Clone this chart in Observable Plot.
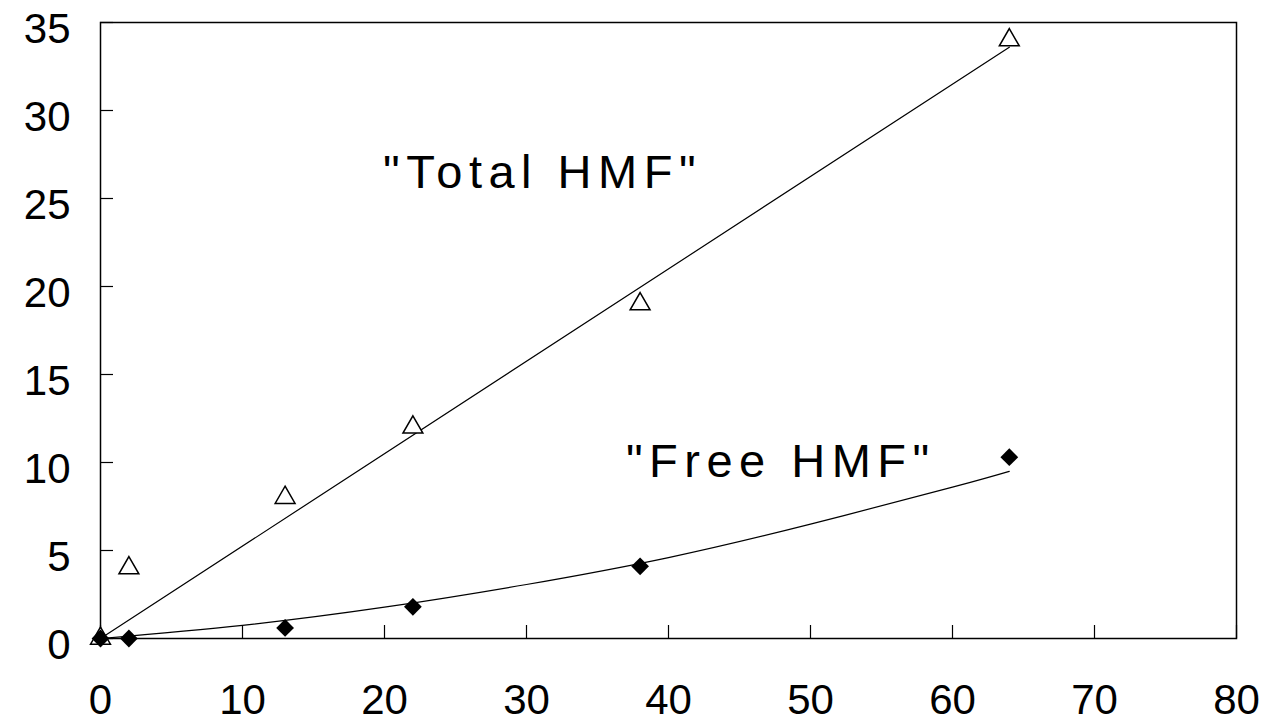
<!DOCTYPE html>
<html>
<head>
<meta charset="utf-8">
<script src="https://cdn.jsdelivr.net/npm/d3@7"></script>
<script src="https://cdn.jsdelivr.net/npm/@observablehq/plot@0.6"></script>
<style>
  html, body { margin: 0; padding: 0; background: #fff; }
  svg g[aria-label="text"] text { letter-spacing: 6.5px; }
</style>
</head>
<body>
<div id="chart"></div>
<script>
// Measured data
const timeX = [0, 2, 13, 22, 38, 64];
const totalHMF = [0, 4, 8, 12, 19, 34];
const freeHMF = [0, 0, 0.6, 1.8, 4.1, 10.3];

// Fitted curves
const totalFitX = [0, 64];
const totalFitY = [0, 33.6];
const freeFitX = [0, 10, 20, 30, 40, 50, 60, 64];
const freeFitY = [0, 0.75, 1.78, 3.07, 4.6, 6.5, 8.6, 9.5];

// Annotations
const labelText = ['"Total HMF"', '"Free HMF"'];
const labelX = [19.9, 37];
const labelY = [25.6, 9.15];

const xTicks = [0, 10, 20, 30, 40, 50, 60, 70, 80];
const yTicks = [0, 5, 10, 15, 20, 25, 30, 35];

const points = timeX.map((x, i) => ({x, total: totalHMF[i], free: freeHMF[i]}));
const totalFit = totalFitX.map((x, i) => ({x, y: totalFitY[i]}));
const freeFit = freeFitX.map((x, i) => ({x, y: freeFitY[i]}));
const labels = labelText.map((t, i) => ({t, x: labelX[i], y: labelY[i]}));

const chart = Plot.plot({
  width: 1277,
  height: 725,
  marginLeft: 100,
  marginRight: 41,
  marginTop: 22,
  marginBottom: 87,
  style: {fontFamily: "'Liberation Sans', Arial, Helvetica, sans-serif", background: "#fff", color: "black"},
  x: {domain: [0, 80]},
  y: {domain: [0, 35]},
  marks: [
    Plot.frame({stroke: "black", strokeWidth: 1.5}),
    Plot.axisX({ticks: xTicks, tickSize: -13, tickFormat: () => "", strokeWidth: 1.2, label: null}),
    Plot.axisX({ticks: xTicks, tickSize: 0, tickPadding: 46, fontSize: 42, label: null}),
    Plot.axisY({ticks: yTicks, tickSize: -13, tickFormat: () => "", strokeWidth: 1.2, label: null}),
    Plot.axisY({ticks: yTicks, tickSize: 0, tickPadding: 30, fontSize: 42, dy: 7, label: null}),
    Plot.line(totalFit, {x: "x", y: "y", stroke: "black", strokeWidth: 1.2}),
    Plot.line(freeFit, {x: "x", y: "y", stroke: "black", strokeWidth: 1.2, curve: "natural"}),
    Plot.dot(points, {x: "x", y: "total", symbol: "triangle2", r: 9.5, stroke: "black", fill: "white", strokeWidth: 1.5}),
    Plot.dot(points, {x: "x", y: "free", symbol: "diamond2", r: 8, fill: "black", stroke: "none"}),
    Plot.text(labels, {x: "x", y: "y", text: "t", textAnchor: "start", lineAnchor: "bottom", fontSize: 47, fill: "black"})
  ]
});
document.getElementById("chart").appendChild(chart);
</script>
</body>
</html>
